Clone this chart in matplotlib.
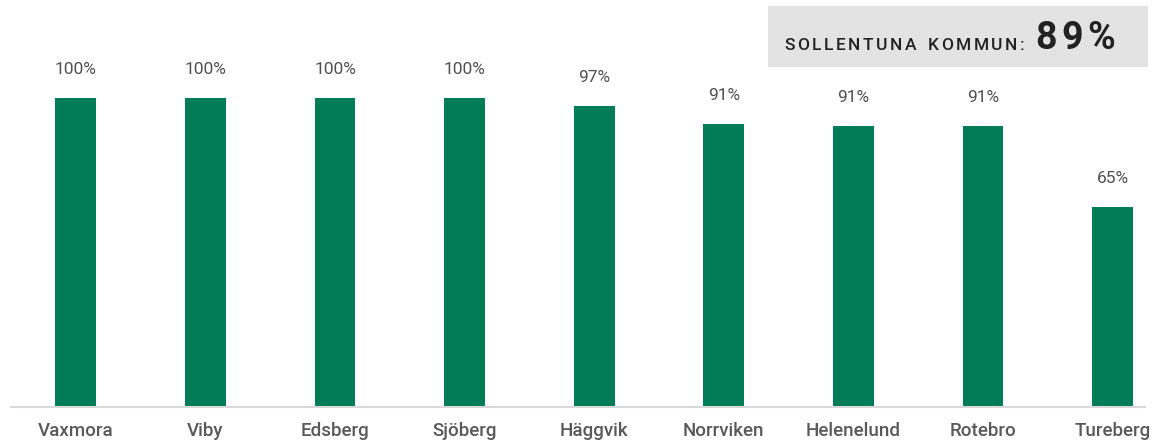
import matplotlib
matplotlib.use("Agg")
import matplotlib.pyplot as plt
from matplotlib.patches import Rectangle

categories = ["Vaxmora", "Viby", "Edsberg", "Sjöberg", "Häggvik",
              "Norrviken", "Helenelund", "Rotebro", "Tureberg"]
values = [100, 100, 100, 100, 97.4, 91.6, 91.0, 91.0, 64.8]
value_labels = ["100%", "100%", "100%", "100%", "97%", "91%", "91%", "91%", "65%"]
total_label = "SOLLENTUNA KOMMUN:"
total_value = "89%"

W, H = 1154, 443
fig = plt.figure(figsize=(W / 100, H / 100), dpi=100)
ax_left, ax_right = 11 / W, 1145 / W
ax_bottom = (H - 407) / H
ax_top_px = 98  # pixel row of 100%
ax_height = (407 - ax_top_px) / H
ax = fig.add_axes([ax_left, ax_bottom, ax_right - ax_left, ax_height])

x = list(range(len(categories)))
ax.bar(x, values, width=0.316, color="#007d57", zorder=2)
ax.set_xlim(-0.5, 8.25)
ax.set_ylim(0, 100)

for xi, v, lab in zip(x, values, value_labels):
    ax.annotate(lab, (xi, v), xytext=(0, 15), textcoords="offset points",
                ha="center", va="bottom", fontsize=12.5, color="#505050",
                family="Roboto", fontweight="normal")

for s in ["top", "right", "left"]:
    ax.spines[s].set_visible(False)
ax.spines["bottom"].set_color("#d9d9d9")
ax.spines["bottom"].set_linewidth(1.5)
ax.set_yticks([])
ax.set_xticks(x)
ax.set_xticklabels(categories, fontsize=13.5, color="#595959",
                   family="Roboto", fontweight="medium")
ax.tick_params(axis="x", length=0, pad=11)

# summary box
box = Rectangle((768 / W, 1 - 67 / H), (1148 - 768) / W, (67 - 6) / H,
                transform=fig.transFigure, facecolor="#e3e3e3",
                edgecolor="none")
fig.patches.append(box)

renderer = fig.canvas.get_renderer()


def tracked_text(s, x_px, y_px, tracking_px, **kw):
    cur = x_px
    for ch in s:
        if ch == " ":
            tmp = fig.text(0, 0, "n", **kw)
            w = tmp.get_window_extent(renderer).width * 0.6
            tmp.remove()
        else:
            t = fig.text(cur / W, 1 - y_px / H, ch, ha="left", va="baseline", **kw)
            w = t.get_window_extent(renderer).width
        cur += w + tracking_px
    return cur


end = tracked_text(total_label, 784, 50, 2.6, fontsize=12.5, color="#222222",
                   family="Roboto", fontweight="medium")
tracked_text(total_value, end + 8, 49, 4.5, fontsize=27, color="#222222",
             family="Roboto", fontweight="bold")

fig.savefig("out.png", dpi=100)
